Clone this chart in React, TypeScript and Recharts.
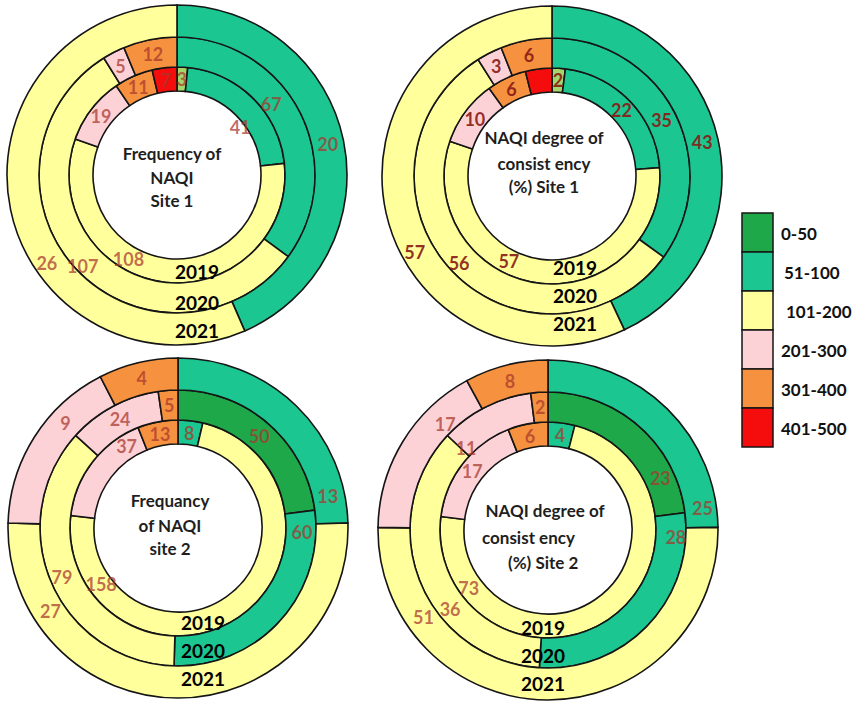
import React from 'react';
import { PieChart, Pie, Cell } from 'recharts';

const categories = ['0-50', '51-100', '101-200', '201-300', '301-400', '401-500'];
const years = ['2019', '2020', '2021'];

// values per category (same order as categories), per ring
const site1Freq2019 = [3, 41, 108, 19, 11, 7];
const site1Freq2020 = [0, 67, 107, 5, 12, 0];
const site1Freq2021 = [0, 20, 26, 0, 0, 0];
const site1Pct2019 = [2, 22, 57, 10, 6, 4];
const site1Pct2020 = [0, 35, 56, 3, 6, 0];
const site1Pct2021 = [0, 43, 57, 0, 0, 0];
const site2Freq2019 = [0, 8, 158, 37, 13, 0];
const site2Freq2020 = [50, 60, 79, 24, 5, 0];
const site2Freq2021 = [0, 13, 27, 9, 4, 0];
const site2Pct2019 = [0, 4, 73, 17, 6, 0];
const site2Pct2020 = [23, 28, 36, 11, 2, 0];
const site2Pct2021 = [0, 25, 51, 17, 8, 0];

const legendColors = ['#1fa84a', '#1cc691', '#ffff9c', '#fdd2d6', '#f5913f', '#f50d0d'];
const site1Colors = ['#a4d66c', '#1cc691', '#ffff9c', '#fdd2d6', '#f5913f', '#f50d0d'];

const FONT = 'Lato, "Open Sans", sans-serif';
const RADIAN = Math.PI / 180;

type ChartDef = {
  cx: number;
  cy: number;
  rings: number[][];
  colors: string[];
  labelColor: string;
  labelOpacity: number;
  hidden?: string[];
  // label placement overrides: key "ring-category" -> [clockwise angle from top, radius]
  labelAt?: Record<string, [number, number]>;
  title: { text: string; dx: number; dy: number; anchor?: string }[];
  yearDx: number;
  yearDy: number[];
};

const charts: ChartDef[] = [
  {
    cx: 172, cy: 170,
    rings: [site1Freq2019, site1Freq2020, site1Freq2021],
    colors: site1Colors, labelColor: '#a8362c', labelOpacity: 0.72,
    labelAt: {
      '0-101-200': [210, 97],
      '1-101-200': [226, 131],
      '2-101-200': [236, 157],
      '0-51-100': [53, 79],
      '1-51-100': [53, 118],
    },
    title: [
      { text: 'Frequency of', dx: 0, dy: -17 },
      { text: 'NAQI', dx: 0, dy: 7 },
      { text: 'Site 1', dx: 0, dy: 30 },
    ],
    yearDx: 25, yearDy: [101, 132, 160],
  },
  {
    cx: 547, cy: 171,
    rings: [site1Pct2019, site1Pct2020, site1Pct2021],
    colors: site1Colors, labelColor: '#8a1c16', labelOpacity: 0.92,
    hidden: ['0-401-500'],
    labelAt: {
      '0-101-200': [207, 95],
      '1-101-200': [227, 127],
      '2-101-200': [241, 157],
    },
    title: [
      { text: 'NAQI degree of', dx: -3, dy: -34 },
      { text: 'consist ency', dx: -3, dy: -8 },
      { text: '(%) Site 1', dx: -3, dy: 15 },
    ],
    yearDx: 28, yearDy: [96, 124, 152],
  },
  {
    cx: 173, cy: 523,
    rings: [site2Freq2019, site2Freq2020, site2Freq2021],
    colors: legendColors, labelColor: '#a8362c', labelOpacity: 0.72,
    labelAt: {
      '0-101-200': [234, 95],
      '1-101-200': [247, 126],
      '2-101-200': [237, 152],
      '0-201-300': [328, 97],
      '2-201-300': [313, 154],
      '2-51-100': [78, 153],
      '1-51-100': [92, 124],
    },
    title: [
      { text: 'Frequancy', dx: -3, dy: -23 },
      { text: 'of NAQI', dx: -3, dy: 2 },
      { text: 'site 2', dx: -3, dy: 25 },
    ],
    yearDx: 30, yearDy: [99, 127, 155],
  },
  {
    cx: 543, cy: 525,
    rings: [site2Pct2019, site2Pct2020, site2Pct2021],
    colors: legendColors, labelColor: '#a8362c', labelOpacity: 0.72,
    labelAt: {
      '0-101-200': [234, 98],
      '1-101-200': [231, 126],
      '2-101-200': [235, 152],
      '1-201-300': [315, 116],
      '2-201-300': [316, 148],
      '1-0-50': [65, 124],
      '1-51-100': [93, 128],
      '2-51-100': [82, 156],
    },
    title: [
      { text: 'NAQI degree of', dx: 2, dy: -15 },
      { text: 'consist ency', dx: -61, dy: 12, anchor: 'start' },
      { text: '(%) Site 2', dx: -35, dy: 37, anchor: 'start' },
    ],
    yearDx: 0, yearDy: [102, 130, 158],
  },
];

const ringRadii: [number, number][] = [
  [84, 108],
  [108, 138],
  [138, 170],
];

const makeLabel = (chart: ChartDef, ringIdx: number) => (props: any) => {
  const { cx, cy, midAngle, innerRadius, outerRadius, payload } = props;
  const name = payload?.name ?? props.name;
  const key = `${ringIdx}-${name}`;
  if (chart.hidden && chart.hidden.includes(key)) return null;
  let x: number;
  let y: number;
  const ov = chart.labelAt ? chart.labelAt[key] : undefined;
  if (ov) {
    x = cx + ov[1] * Math.sin(ov[0] * RADIAN);
    y = cy - ov[1] * Math.cos(ov[0] * RADIAN);
  } else {
    const r = (innerRadius + outerRadius) / 2;
    x = cx + r * Math.cos(-midAngle * RADIAN);
    y = cy + r * Math.sin(-midAngle * RADIAN);
  }
  return (
    <text
      x={x}
      y={y}
      fill={chart.labelColor}
      fillOpacity={chart.labelOpacity}
      textAnchor="middle"
      dominantBaseline="central"
      fontFamily={FONT}
      fontWeight={700}
      fontSize={18}
    >
      {payload?.value ?? props.value}
    </text>
  );
};

export default function App() {
  return (
    <div style={{ position: 'absolute', left: 0, top: 0, width: 858, height: 703, background: '#fff', overflow: 'hidden' }}>
      <PieChart width={858} height={703} style={{ position: 'absolute', left: 0, top: 0 }}>
        {charts.map((chart, ci) =>
          chart.rings.map((vals, ri) => {
            const data = categories
              .map((c, i) => ({ name: c, value: vals[i], color: chart.colors[i] }))
              .filter((d) => d.value > 0);
            return (
              <Pie
                key={`${ci}-${ri}`}
                data={data}
                dataKey="value"
                nameKey="name"
                cx={chart.cx}
                cy={chart.cy}
                innerRadius={ringRadii[ri][0]}
                outerRadius={ringRadii[ri][1]}
                startAngle={90}
                endAngle={-270}
                stroke="#151515"
                strokeWidth={1.6}
                isAnimationActive={false}
                labelLine={false}
                label={makeLabel(chart, ri)}
              >
                {data.map((d) => (
                  <Cell key={d.name} fill={d.color} />
                ))}
              </Pie>
            );
          })
        )}
      </PieChart>

      <svg width={858} height={703} style={{ position: 'absolute', left: 0, top: 0, pointerEvents: 'none' }}>
        {charts.map((chart, ci) => (
          <g key={`t-${ci}`}>
            {chart.title.map((t, ti) => (
              <text
                key={ti}
                x={chart.cx + t.dx}
                y={chart.cy + t.dy}
                textAnchor={(t.anchor as any) || 'middle'}
                dominantBaseline="central"
                fontFamily={FONT}
                fontWeight={700}
                fontSize={17}
                fill="#1e1e1e"
              >
                {t.text}
              </text>
            ))}
            {years.map((y, yi) => (
              <text
                key={y}
                x={chart.cx + chart.yearDx}
                y={chart.cy + chart.yearDy[yi]}
                textAnchor="middle"
                dominantBaseline="central"
                fontFamily={FONT}
                fontWeight={700}
                fontSize={19}
                fill="#000"
              >
                {y}
              </text>
            ))}
          </g>
        ))}
        {categories.map((c, i) => (
          <g key={`lg-${c}`}>
            <rect x={742} y={213 + i * 39} width={31} height={39} fill={legendColors[i]} stroke="#151515" strokeWidth={1.5} />
            <text
              x={781 + (i === 1 ? 3 : i === 2 ? 5 : 0)}
              y={213 + i * 39 + 20}
              dominantBaseline="central"
              fontFamily={FONT}
              fontWeight={700}
              fontSize={17}
              fill="#111"
            >
              {c}
            </text>
          </g>
        ))}
      </svg>
    </div>
  );
}
